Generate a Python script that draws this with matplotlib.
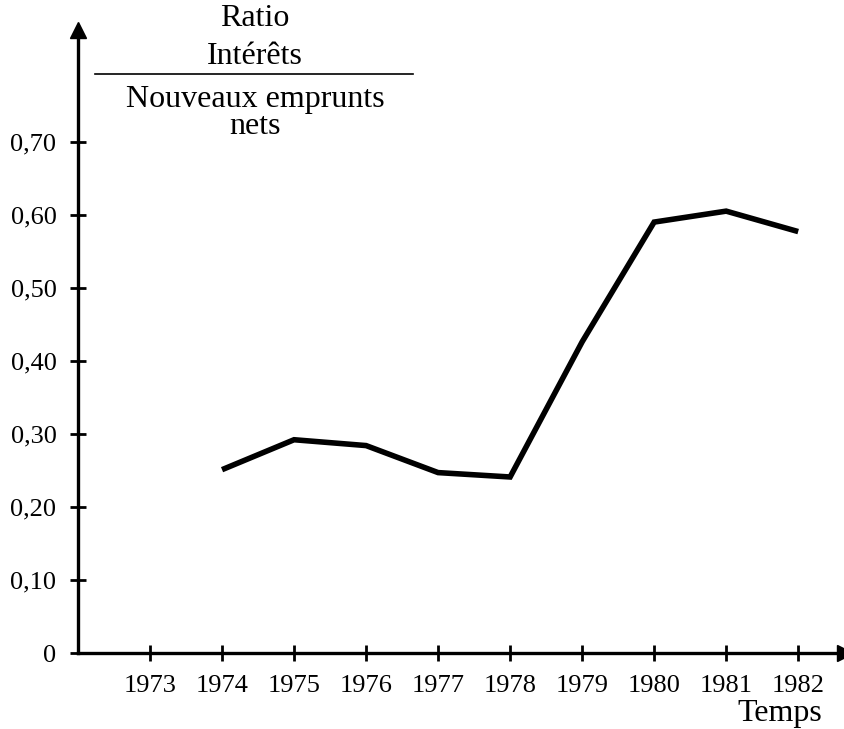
import matplotlib.pyplot as plt

# -------- Style --------
plt.rcParams.update({
    'font.family': 'serif',
    'font.serif': ['Liberation Serif', 'DejaVu Serif'],
    'font.size': 19,
})

# -------- Data --------
years = [1974, 1975, 1976, 1977, 1978, 1979, 1980, 1981, 1982]
ratio = [0.251, 0.292, 0.284, 0.247, 0.241, 0.426, 0.590, 0.605, 0.577]

x_ticks = [1973, 1974, 1975, 1976, 1977, 1978, 1979, 1980, 1981, 1982]
y_ticks = [0, 0.10, 0.20, 0.30, 0.40, 0.50, 0.60, 0.70]
y_labels = ['0', '0,10', '0,20', '0,30', '0,40', '0,50', '0,60', '0,70']

W, H = 845, 729
fig = plt.figure(figsize=(W / 100, H / 100), dpi=100)
ax = fig.add_axes([78 / W, (H - 653) / H, (845 - 78) / W, (653 - 30) / H])

ax.plot(years, ratio, color='black', linewidth=4.0, solid_joinstyle='miter',
        solid_capstyle='butt')

ax.set_xlim(1972, 1982.65)
ax.set_ylim(0, 0.853)

ax.set_xticks(x_ticks)
ax.set_xticklabels([str(y) for y in x_ticks])
ax.set_yticks(y_ticks)
ax.set_yticklabels(y_labels)
ax.tick_params(axis='both', direction='inout', length=11, width=2, colors='black',
               labelsize=19)
ax.tick_params(axis='x', pad=10)
ax.tick_params(axis='y', pad=10)

for side in ['top', 'right']:
    ax.spines[side].set_visible(False)
for side in ['left', 'bottom']:
    ax.spines[side].set_linewidth(2.4)

# arrow heads on the axes
ax.plot(1, 0, marker='>', color='black', markersize=11,
        transform=ax.transAxes, clip_on=False)
ax.plot(0, 1, marker='^', color='black', markersize=11,
        transform=ax.transAxes, clip_on=False)

# -------- Labels --------
fig.text(780 / W, 1 - 714 / H, 'Temps', ha='center', va='center', fontsize=23)
fig.text(255 / W, 1 - 18 / H, 'Ratio', ha='center', va='center', fontsize=23)
fig.text(255 / W, 1 - 57 / H, 'Intérêts', ha='center', va='center', fontsize=23)
fig.add_artist(plt.Line2D([95 / W, 413 / W], [1 - 74 / H, 1 - 74 / H],
                          color='black', linewidth=1.2))
fig.text(255 / W, 1 - 99 / H, 'Nouveaux emprunts', ha='center', va='center',
         fontsize=23)
fig.text(255 / W, 1 - 127 / H, 'nets', ha='center', va='center', fontsize=23)

fig.savefig('out.png', dpi=100, facecolor='white')
